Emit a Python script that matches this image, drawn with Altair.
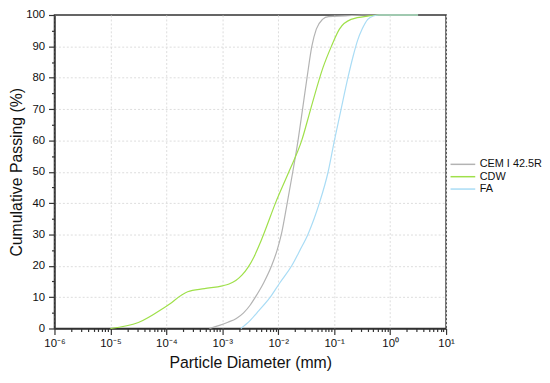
import altair as alt
import pandas as pd

# CEM I 42.5R (gray)
cem_d = [5.9e-4, 8.9e-4, 1.26e-3, 1.78e-3, 2.4e-3, 3.16e-3, 3.9e-3, 5.5e-3, 7.6e-3, 9.55e-3,
         1.135e-2, 1.445e-2, 1.82e-2, 2.26e-2, 2.72e-2, 3.27e-2, 3.98e-2, 4.79e-2,
         6.17e-2, 7.9e-2, 0.158, 0.316, 3.16]
cem_p = [0, 1.0, 2.0, 3.2, 5.0, 7.5, 10, 14.6, 20, 25,
         30, 40, 50, 60, 70, 80, 90, 95.5,
         98.6, 99.5, 99.7, 100, 100]

# CDW (green)
cdw_d = [1.0e-5, 3.16e-5, 1.0e-4, 2.4e-4, 4.8e-4, 1.0e-3, 1.32e-3, 1.74e-3, 2.24e-3, 2.88e-3,
         3.72e-3, 4.68e-3, 5.89e-3, 8.91e-3, 1.55e-2, 2.63e-2, 3.8e-2, 6.3e-2, 8.9e-2, 0.124,
         0.2, 0.417, 0.63, 3.16]
cdw_p = [0, 1.9, 7.1, 11.7, 12.7, 13.6, 14.2, 15.3, 17.0, 19.5,
         23, 27, 31.5, 40, 50, 60, 70, 83.2, 90, 95.5,
         98.6, 99.7, 100, 100]

# FA (light blue)
fa_d = [2.14e-3, 3.16e-3, 4.5e-3, 7.2e-3, 1.07e-2, 1.74e-2, 2.45e-2, 3.39e-2, 4.37e-2,
        5.43e-2, 7.8e-2, 0.101, 0.133, 0.176, 0.219, 0.263, 0.316, 0.398, 0.50, 0.63, 3.16]
fa_p = [0, 2.6, 5.7, 10, 14.6, 20, 25, 30, 35,
        40, 50, 60, 70, 80, 87, 92, 95.5, 98.6, 99.7, 100, 100]

series = ["CEM I 42.5R", "CDW", "FA"]
colors = ["#b3b3b3", "#9fe04a", "#a9dcf5"]

decades = [1e-6, 1e-5, 1e-4, 1e-3, 1e-2, 1e-1, 1e0, 1e1]
decade_labels = ["10⁻⁶", "10⁻⁵", "10⁻⁴", "10⁻³", "10⁻²", "10⁻¹", "10⁰", "10¹"]

rows = []
for name, ds, ps in [(series[0], cem_d, cem_p), (series[1], cdw_d, cdw_p), (series[2], fa_d, fa_p)]:
    for i, (d, p) in enumerate(zip(ds, ps)):
        rows.append({"series": name, "d": d, "p": p, "i": i})
df = pd.DataFrame(rows)

x_ticks = []
for dec in decades[:-1]:
    for m in range(1, 10):
        x_ticks.append(float(f"{m * dec:.3g}"))
x_ticks.append(10.0)

label_expr = " : ".join(
    f"abs(datum.value - {v}) < {v} * 1e-6 ? '{lab}'" for v, lab in zip(decades, decade_labels)
) + " : ''"
is_dec = "abs(log(datum.value)/LN10 - round(log(datum.value)/LN10)) < 1e-6"

x_axis = alt.Axis(
    values=x_ticks,
    labelExpr=label_expr,
    title="Particle Diameter (mm)",
    tickSize={"condition": {"test": is_dec, "value": 6}, "value": 3},
    gridOpacity={"condition": {"test": is_dec, "value": 1}, "value": 0},
    labelFlush=False,
    labelOverlap=False,
    labelFontSize=11.5,
    labelPadding=3,
    titleFontSize=16,
    titlePadding=6,
)

y_axis = alt.Axis(
    values=list(range(0, 101, 5)),
    labelExpr="datum.value % 10 == 0 ? datum.value : ''",
    title="Cumulative Passing (%)",
    tickSize={"condition": {"test": "datum.value % 10 == 0", "value": 6}, "value": 3},
    gridOpacity={"condition": {"test": "datum.value % 10 == 0 && datum.value > 0 && datum.value < 100", "value": 1}, "value": 0},
    labelFontSize=11.5,
    labelPadding=4,
    titleFontSize=16,
    titlePadding=1,
    labelFlush=False,
)

chart = alt.Chart(df).mark_line(strokeWidth=1.2, interpolate="monotone").encode(
    x=alt.X("d:Q", scale=alt.Scale(type="log", domain=[1e-6, 10], nice=False), axis=x_axis),
    y=alt.Y("p:Q", scale=alt.Scale(domain=[0, 100], nice=False), axis=y_axis),
    color=alt.Color(
        "series:N",
        scale=alt.Scale(domain=series, range=colors),
        legend=alt.Legend(
            title=None,
            orient="none",
            legendX=406,
            legendY=144,
            symbolType="M-2,0H2",
            symbolSize=156,
            symbolStrokeWidth=1.5,
            labelFontSize=11,
            labelOffset=10,
            rowPadding=0.5,
            padding=0,
        ),
    ),
    order="i:Q",
).properties(
    width=396,
    height=317,
    autosize=alt.AutoSizeParams(type="none"),
    padding={"left": 47, "top": 5, "right": 97, "bottom": 50},
).configure(
    font="Liberation Sans",
).configure_axis(
    domainColor="#333333",
    domainWidth=1.5,
    tickColor="#333333",
    tickWidth=1.2,
    labelColor="#111111",
    titleColor="#111111",
    titleFontWeight="normal",
    gridColor="#dddddd",
    gridDash=[2, 2],
    gridWidth=1,
).configure_view(
    stroke="#333333",
    strokeWidth=1.5,
).configure_legend(
    labelColor="#111111",
)

chart.save("out.html", embed_options={"renderer": "svg", "actions": False})
